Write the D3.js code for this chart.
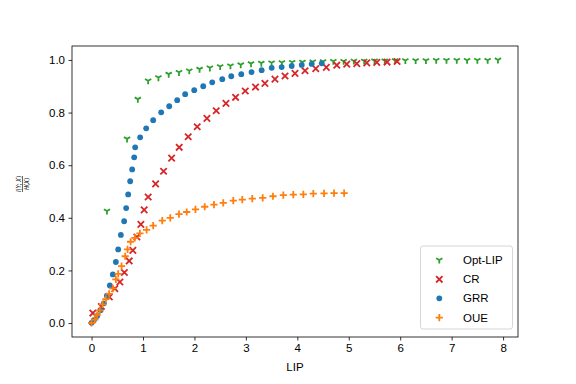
<!DOCTYPE html>
<html>
<head>
<meta charset="utf-8">
<script src="https://cdn.jsdelivr.net/npm/d3@7"></script>
<style>
  html, body { margin: 0; padding: 0; background: #fff; }
  svg { display: block; }
  text { font-family: "Liberation Sans", Arial, sans-serif; }
</style>
</head>
<body>
<svg id="chart" width="576" height="384"></svg>
<script>
// ---------------- data ----------------
const seriesNames = ["Opt-LIP", "CR", "GRR", "OUE"];

const optLipX = [0.30, 0.69, 0.90, 1.10, 1.30, 1.50, 1.70, 1.90, 2.10, 2.30, 2.50, 2.70, 2.90, 3.10,
  3.30, 3.50, 3.70, 3.90, 4.10, 4.30, 4.50, 4.70, 4.90, 5.10, 5.30, 5.50, 5.70, 5.90, 6.10, 6.30,
  6.50, 6.70, 6.90, 7.10, 7.30, 7.50, 7.70, 7.90];
const optLipY = [0.426, 0.700, 0.851, 0.921, 0.933, 0.946, 0.953, 0.959, 0.965, 0.970, 0.975, 0.978, 0.982, 0.986,
  0.988, 0.989, 0.990, 0.991, 0.992, 0.993, 0.994, 0.995, 0.995, 0.996, 0.996, 0.997, 0.997, 0.998, 0.998, 0.998,
  0.998, 0.999, 0.999, 0.999, 0.999, 0.999, 0.999, 1.000];

const crX = [0.025, 0.191, 0.346, 0.453, 0.551, 0.638, 0.732, 0.803, 0.881, 0.959, 1.023, 1.101, 1.245, 1.400,
  1.556, 1.704, 1.879, 2.054, 2.243, 2.424, 2.613, 2.800, 2.988, 3.187, 3.370, 3.566, 3.761, 3.955, 4.150,
  4.358, 4.564, 4.767, 4.961, 5.156, 5.350, 5.545, 5.745, 5.940];
const crY = [0.038, 0.063, 0.099, 0.131, 0.156, 0.192, 0.236, 0.276, 0.327, 0.375, 0.430, 0.479, 0.529, 0.577,
  0.627, 0.668, 0.708, 0.746, 0.778, 0.807, 0.835, 0.858, 0.882, 0.897, 0.911, 0.927, 0.939, 0.949, 0.959,
  0.967, 0.972, 0.980, 0.984, 0.986, 0.989, 0.991, 0.992, 0.994];

const grrX = [0.000, 0.045, 0.109, 0.175, 0.239, 0.298, 0.356, 0.414, 0.473, 0.518, 0.570, 0.634, 0.673, 0.712,
  0.751, 0.790, 0.829, 0.848, 0.945, 1.062, 1.198, 1.354, 1.510, 1.665, 1.820, 1.996, 2.171, 2.346, 2.541,
  2.716, 2.911, 3.110, 3.307, 3.502, 3.696, 3.891, 4.086, 4.280, 4.475];
const grrY = [0.001, 0.011, 0.027, 0.049, 0.075, 0.104, 0.143, 0.185, 0.232, 0.280, 0.335, 0.387, 0.437, 0.489,
  0.539, 0.584, 0.630, 0.668, 0.706, 0.740, 0.771, 0.801, 0.824, 0.847, 0.870, 0.885, 0.900, 0.915, 0.927,
  0.938, 0.946, 0.954, 0.961, 0.970, 0.973, 0.977, 0.981, 0.985, 0.987];

const oueX = [0.000, 0.064, 0.109, 0.161, 0.214, 0.278, 0.342, 0.414, 0.473, 0.518, 0.584, 0.654, 0.700, 0.759,
  0.842, 0.940, 1.070, 1.198, 1.374, 1.530, 1.700, 1.850, 2.020, 2.200, 2.380, 2.560, 2.755, 2.930, 3.124,
  3.327, 3.527, 3.728, 3.922, 4.117, 4.311, 4.520, 4.714, 4.910];
const oueY = [0.001, 0.013, 0.030, 0.048, 0.071, 0.091, 0.111, 0.132, 0.166, 0.187, 0.216, 0.254, 0.280, 0.309,
  0.324, 0.341, 0.354, 0.370, 0.389, 0.400, 0.414, 0.422, 0.432, 0.442, 0.450, 0.457, 0.465, 0.469, 0.473,
  0.476, 0.482, 0.486, 0.488, 0.489, 0.492, 0.493, 0.494, 0.494];

const xTicks = [0, 1, 2, 3, 4, 5, 6, 7, 8];
const yTicks = [0.0, 0.2, 0.4, 0.6, 0.8, 1.0];
const xLabel = "LIP";

// ---------------- layout ----------------
const W = 576, H = 384;
const plot = { left: 72, right: 518, top: 46, bottom: 337 };
const colors = { "Opt-LIP": "#2ca02c", "CR": "#d62728", "GRR": "#1f77b4", "OUE": "#ff7f0e" };
const FONT = 11.5;

const svg = d3.select("#chart");
const x = d3.scaleLinear().domain([-0.38, 8.29]).range([plot.left, plot.right]);
const y = d3.scaleLinear().domain([-0.053, 1.053]).range([plot.bottom, plot.top]);

const series = [
  { name: "Opt-LIP", xs: optLipX, ys: optLipY, shape: "tri" },
  { name: "CR", xs: crX, ys: crY, shape: "x" },
  { name: "GRR", xs: grrX, ys: grrY, shape: "dot" },
  { name: "OUE", xs: oueX, ys: oueY, shape: "plus" }
];

function drawMarker(g, shape, color) {
  if (shape === "dot") {
    g.append("circle").attr("r", 2.9).attr("fill", color);
  } else if (shape === "x") {
    const s = 3.2;
    g.append("path").attr("d", `M${-s},${-s}L${s},${s}M${-s},${s}L${s},${-s}`)
      .attr("stroke", color).attr("stroke-width", 1.8).attr("fill", "none");
  } else if (shape === "plus") {
    const s = 3.6;
    g.append("path").attr("d", `M${-s},0L${s},0M0,${-s}L0,${s}`)
      .attr("stroke", color).attr("stroke-width", 1.8).attr("fill", "none");
  } else if (shape === "tri") {
    const r = 3.6;
    g.append("path").attr("d",
      `M0,0L0,${r}M0,0L${-0.866 * r},${-0.5 * r}M0,0L${0.866 * r},${-0.5 * r}`)
      .attr("stroke", color).attr("stroke-width", 1.8).attr("fill", "none");
  }
}

// clip
svg.append("defs").append("clipPath").attr("id", "clip")
  .append("rect").attr("x", plot.left).attr("y", plot.top)
  .attr("width", plot.right - plot.left).attr("height", plot.bottom - plot.top);

const marks = svg.append("g").attr("clip-path", "url(#clip)");
series.forEach(s => {
  const pts = s.xs.map((v, i) => [v, s.ys[i]]);
  const gs = marks.append("g").attr("class", "series");
  gs.selectAll("g").data(pts).join("g")
    .attr("transform", d => `translate(${x(d[0])},${y(d[1])})`)
    .each(function () { drawMarker(d3.select(this), s.shape, colors[s.name]); });
});

// axes
const xAxis = d3.axisBottom(x).tickValues(xTicks).tickFormat(d3.format("d"))
  .tickSize(3.5).tickPadding(3.5).tickSizeOuter(0);
const yAxis = d3.axisLeft(y).tickValues(yTicks).tickFormat(d3.format(".1f"))
  .tickSize(3.5).tickPadding(3.5).tickSizeOuter(0);

const gx = svg.append("g").attr("transform", `translate(0,${plot.bottom})`).call(xAxis);
const gy = svg.append("g").attr("transform", `translate(${plot.left},0)`).call(yAxis);
[gx, gy].forEach(g => {
  g.select(".domain").remove();
  g.selectAll(".tick line").attr("stroke", "#000").attr("stroke-width", 0.8);
  g.selectAll(".tick text").attr("fill", "#000")
    .style("font-size", FONT + "px").style("font-family", "'Liberation Sans', Arial, sans-serif");
});

// frame
svg.append("rect").attr("x", plot.left).attr("y", plot.top)
  .attr("width", plot.right - plot.left).attr("height", plot.bottom - plot.top)
  .attr("fill", "none").attr("stroke", "#000").attr("stroke-width", 0.8);

// x label
svg.append("text").attr("x", (plot.left + plot.right) / 2).attr("y", 371)
  .attr("text-anchor", "middle").style("font-size", FONT + "px").text(xLabel);

// y label: fraction I(Y;X) / H(X)
const yl = svg.append("g").attr("transform", "translate(22.5,184) rotate(-90)");
const num = yl.append("text").attr("x", 0).attr("y", -1.6).attr("text-anchor", "middle")
  .style("font-size", "7px").style("font-family", "'DejaVu Sans', sans-serif")
  .attr("textLength", 16).attr("lengthAdjust", "spacingAndGlyphs");
num.append("tspan").style("font-style", "italic").text("I");
num.append("tspan").text("(");
num.append("tspan").style("font-style", "italic").text("Y");
num.append("tspan").text("; ");
num.append("tspan").style("font-style", "italic").text("X");
num.append("tspan").text(")");
yl.append("line").attr("x1", -8).attr("x2", 8).attr("y1", 0).attr("y2", 0)
  .attr("stroke", "#000").attr("stroke-width", 0.6);
const den = yl.append("text").attr("x", 0).attr("y", 6.4).attr("text-anchor", "middle")
  .style("font-size", "7px").style("font-family", "'DejaVu Sans', sans-serif")
  .attr("textLength", 12).attr("lengthAdjust", "spacingAndGlyphs");
den.append("tspan").style("font-style", "italic").text("H");
den.append("tspan").text("(");
den.append("tspan").style("font-style", "italic").text("X");
den.append("tspan").text(")");

// legend
const leg = svg.append("g");
leg.append("rect").attr("x", 420.5).attr("y", 246).attr("width", 92).attr("height", 83)
  .attr("rx", 2.5).attr("fill", "#fff").attr("fill-opacity", 0.8)
  .attr("stroke", "#cccccc").attr("stroke-width", 0.8);
const legRows = [260, 279.3, 298.3, 317.7];
series.forEach((s, i) => {
  const row = leg.append("g").attr("transform", `translate(0,${legRows[i]})`);
  const m = row.append("g").attr("transform", "translate(439.3,0)");
  drawMarker(m, s.shape, colors[s.name]);
  row.append("text").attr("x", 463).attr("y", 0).attr("dy", "0.36em")
    .style("font-size", FONT + "px").attr("fill", "#000").text(s.name);
});
</script>
</body>
</html>
